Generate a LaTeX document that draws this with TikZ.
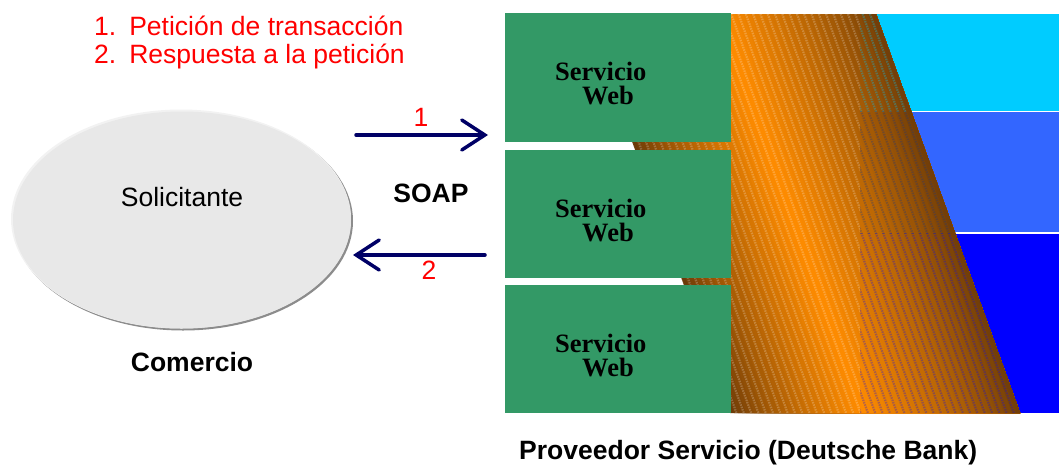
\documentclass[tikz,border=0pt]{standalone}
\usepackage{fontspec}
\setmainfont{Liberation Sans}
\newfontfamily\serifb{Liberation Serif}
\usetikzlibrary{arrows.meta,shapes.geometric}
\definecolor{gr}{HTML}{339966}
\definecolor{navy}{HTML}{000066}
\definecolor{orb}{HTML}{FF8C00}
\definecolor{ord}{HTML}{6B3A08}
\definecolor{tiera}{HTML}{00CCFF}
\definecolor{tierb}{HTML}{3366FF}
\definecolor{tierc}{HTML}{0000FF}
\tikzset{
  x=1pt,y=-1pt,
  svc/.style={fill=gr,draw=none,minimum width=226pt,inner sep=0pt,outer sep=0pt,anchor=north west},
  svctext/.style={font=\serifb\bfseries\fontsize{26.5}{24}\selectfont,align=left,anchor=north west,inner sep=0pt,text=black},
  lab/.style={font=\fontsize{26.5}{26.5}\selectfont,inner sep=0pt},
  labb/.style={font=\bfseries\fontsize{26.5}{26.5}\selectfont,inner sep=0pt},
  redl/.style={font=\fontsize{26.5}{26.5}\selectfont,inner sep=0pt,text=red},
  flow/.style={draw=navy,line width=3.5pt,line cap=round,-{Straight Barb[length=23pt,width=30pt,line cap=round,line join=miter]}},
}
\newcommand{\tierdash}[4]{%
  \begin{scope}
  \clip (#2) rectangle (#3);
  \foreach \i in {0,...,60}{
    \pgfmathsetmacro\dx{7.3*\i}
    \draw[#1,opacity=#4,line width=2.2pt,dash pattern=on 1.5pt off 1pt] (586+\dx-30,14) -- (730+\dx-30,413);
  }
  \end{scope}}
\begin{document}
\begin{tikzpicture}
\useasboundingbox (0,0) rectangle (1059,466);
% tiers behind
\fill[tiera] (860,14) rectangle (1059,110.5);
\fill[tierb] (860,112) rectangle (1059,232);
\fill[tierc] (860,234) rectangle (1059,413);
% slanted orange band
\begin{scope}
\clip (586,14) -- (876,14) -- (1020,413) -- (730,413) -- cycle;
\foreach \i in {0,...,72}{
  \pgfmathsetmacro\t{\i/72}
  \pgfmathsetmacro\m{\t<0.45 ? 100*pow(\t/0.45,0.8) : 100*pow((1-\t)/0.55,0.8)}
  \pgfmathsetmacro\dx{290*\t}
  \fill[orb!\m!ord] (586+\dx,14) -- (900,14) -- (1044,413) -- (730+\dx,413) -- cycle;
}
% texture
\tierdash{white}{586,14}{860,413}{.22}
\tierdash{tiera}{860,14}{1059,111}{.3}
\tierdash{black!50!tierb}{860,111}{1059,233}{.3}
\tierdash{tierc}{860,233}{1059,413}{.28}
\end{scope}
% services
\node[svc,minimum height=129pt] (s1) at (505,13) {};
\node[svc,minimum height=128pt] (s2) at (505,150) {};
\node[svc,minimum height=128pt] (s3) at (505,285) {};
\node[svctext] (t1) at (555,62) {Servicio\\\hspace*{27pt}Web};
\node[svctext] (t2) at (555,199) {Servicio\\\hspace*{27pt}Web};
\node[svctext] (t3) at (555,334) {Servicio\\\hspace*{27pt}Web};
% requester
\node[ellipse,minimum width=340pt,minimum height=219pt,inner sep=0pt,fill=black!45,draw=none] (eshadow) at (183,221) {};
\node[ellipse,minimum width=340pt,minimum height=219pt,inner sep=0pt,fill=black!5,draw=none] (ehl) at (181,219) {};
\node[ellipse,minimum width=338pt,minimum height=217pt,inner sep=0pt,fill=black!9,draw=none] (e) at (182,220) {};
\node[lab] (sol) at (182,197) {Solicitante};
% connectors
\coordinate (a1s) at (356,135);
\coordinate (a1e) at (488,135);
\coordinate (a2s) at (485,255);
\coordinate (a2e) at (353,255);
\draw[flow] (a1s) -- (a1e);
\draw[flow] (a2s) -- (a2e);
% labels
\node[redl] (n1) at (421,117) {1};
\node[redl] (n2) at (429,270) {2};
\node[labb] (soap) at (431,193) {SOAP};
\node[labb] (com) at (192,362) {Comercio};
\node[labb,anchor=west] (prov) at (519,453) {Proveedor Servicio (Deutsche Bank)};
\node[redl,anchor=west] (l1) at (94,26) {1.\hspace{13pt}Petición de transacción};
\node[redl,anchor=west] (l2) at (94,56) {2.\hspace{13pt}Respuesta a la petición};
\end{tikzpicture}
\end{document}
